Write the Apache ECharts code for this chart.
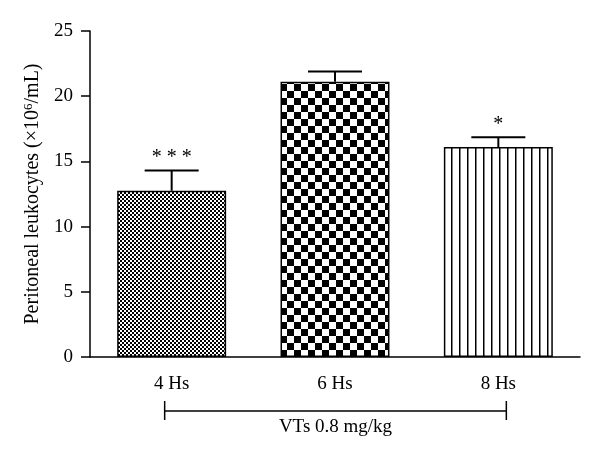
<!DOCTYPE html>
<html>
<head>
<meta charset="utf-8">
<script src="https://cdn.jsdelivr.net/npm/echarts@6/dist/echarts.min.js"></script>
<style>
html,body{margin:0;padding:0;background:#fff;}
#chart{width:600px;height:459px;}
</style>
</head>
<body>
<div id="chart"></div>
<script>
// ---- data ----
const categories = ['4 Hs', '6 Hs', '8 Hs'];
const means = [12.75, 21.1, 16.1];
const errors = [1.55, 0.8, 0.75];
const significance = ['***', '', '*'];
const yTicks = [0, 5, 10, 15, 20, 25];
const groupLabel = 'VTs 0.8 mg/kg';

const FONT = 'Liberation Serif';

function makeChecker(cell) {
  const s = cell * 2;
  const c = document.createElement('canvas');
  c.width = s; c.height = s;
  const g = c.getContext('2d');
  g.fillStyle = '#fff'; g.fillRect(0, 0, s, s);
  g.fillStyle = '#000';
  g.fillRect(0, 0, cell, cell); g.fillRect(cell, cell, cell, cell);
  return c;
}
function makeStripes() {
  const c = document.createElement('canvas');
  c.width = 8; c.height = 8;
  const g = c.getContext('2d');
  g.fillStyle = '#fff'; g.fillRect(0, 0, 8, 8);
  g.fillStyle = '#000';
  g.fillRect(3, 0, 1.5, 8);
  return c;
}
const patterns = [makeChecker(2), makeChecker(7), makeStripes()];

const chart = echarts.init(document.getElementById('chart'), null, {renderer: 'canvas'});

const barData = means.map((v, i) => ({
  value: v,
  itemStyle: {
    color: {image: patterns[i], repeat: 'repeat'},
    borderColor: '#000',
    borderWidth: 1.5
  }
}));

const errData = means.map((v, i) => [i, v, errors[i]]);

chart.setOption({
  animation: false,
  backgroundColor: '#fff',
  grid: {left: 90, right: 20, top: 31, bottom: 102},
  xAxis: {
    type: 'category',
    data: categories,
    axisLine: {lineStyle: {color: '#000', width: 1.5}},
    axisTick: {alignWithLabel: true, length: 9, lineStyle: {color: '#000', width: 1.5}},
    axisLabel: {color: '#000', fontFamily: FONT, fontSize: 19, margin: 18}
  },
  yAxis: {
    type: 'value',
    min: 0, max: 25, interval: 5,
    name: 'Peritoneal leukocytes (×10{sup|6}/mL)',
    nameLocation: 'middle',
    nameGap: 44,
    nameRotate: 90,
    nameTextStyle: {
      color: '#000', fontFamily: FONT, fontSize: 20,
      rich: {sup: {fontSize: 13, verticalAlign: 'top', padding: [0, 0, 9, 0], fontFamily: FONT, color: '#000'}}
    },
    axisLine: {show: true, lineStyle: {color: '#000', width: 1.5}},
    axisTick: {show: true, length: 9, lineStyle: {color: '#000', width: 1.5}},
    axisLabel: {color: '#000', fontFamily: FONT, fontSize: 19, margin: 17,
      formatter: v => yTicks.includes(v) ? String(v) : ''},
    splitLine: {show: false}
  },
  series: [
    {
      type: 'bar',
      data: barData,
      barCategoryGap: '33.3%'
    },
    {
      type: 'custom',
      data: errData,
      z: 5,
      renderItem: function (params, api) {
        const i = api.value(0), m = api.value(1), e = api.value(2);
        const base = api.coord([i, m]);
        const top = api.coord([i, m + e]);
        const sig = significance[params.dataIndex];
        const children = [
          {type: 'line', shape: {x1: base[0], y1: base[1], x2: top[0], y2: top[1]}, style: {stroke: '#000', lineWidth: 2}},
          {type: 'line', shape: {x1: top[0] - 27, y1: top[1], x2: top[0] + 27, y2: top[1]}, style: {stroke: '#000', lineWidth: 2}}
        ];
        if (sig) {
          children.push({type: 'text', style: {text: sig.split('').join(' '), x: top[0], y: top[1] - 3, align: 'center', verticalAlign: 'bottom',
            font: '20px "' + FONT + '"', fill: '#000'}});
        }
        return {type: 'group', children: children};
      }
    }
  ]
});

function drawBracket() {
  const p0 = chart.convertToPixel({xAxisIndex: 0}, categories[0]);
  const p2 = chart.convertToPixel({xAxisIndex: 0}, categories[categories.length - 1]);
  const x1 = p0 - 7, x2 = p2 + 8, y = 411;
  chart.setOption({
    graphic: [
      {type: 'line', shape: {x1: x1, y1: y, x2: x2, y2: y}, style: {stroke: '#000', lineWidth: 1.5}},
      {type: 'line', shape: {x1: x1, y1: y - 10, x2: x1, y2: y + 9}, style: {stroke: '#000', lineWidth: 1.5}},
      {type: 'line', shape: {x1: x2, y1: y - 10, x2: x2, y2: y + 9}, style: {stroke: '#000', lineWidth: 1.5}},
      {type: 'text', x: (x1 + x2) / 2, y: 427, style: {text: groupLabel, align: 'center', verticalAlign: 'middle',
        font: '19px "' + FONT + '"', fill: '#000'}}
    ]
  });
}
drawBracket();
</script>
</body>
</html>
